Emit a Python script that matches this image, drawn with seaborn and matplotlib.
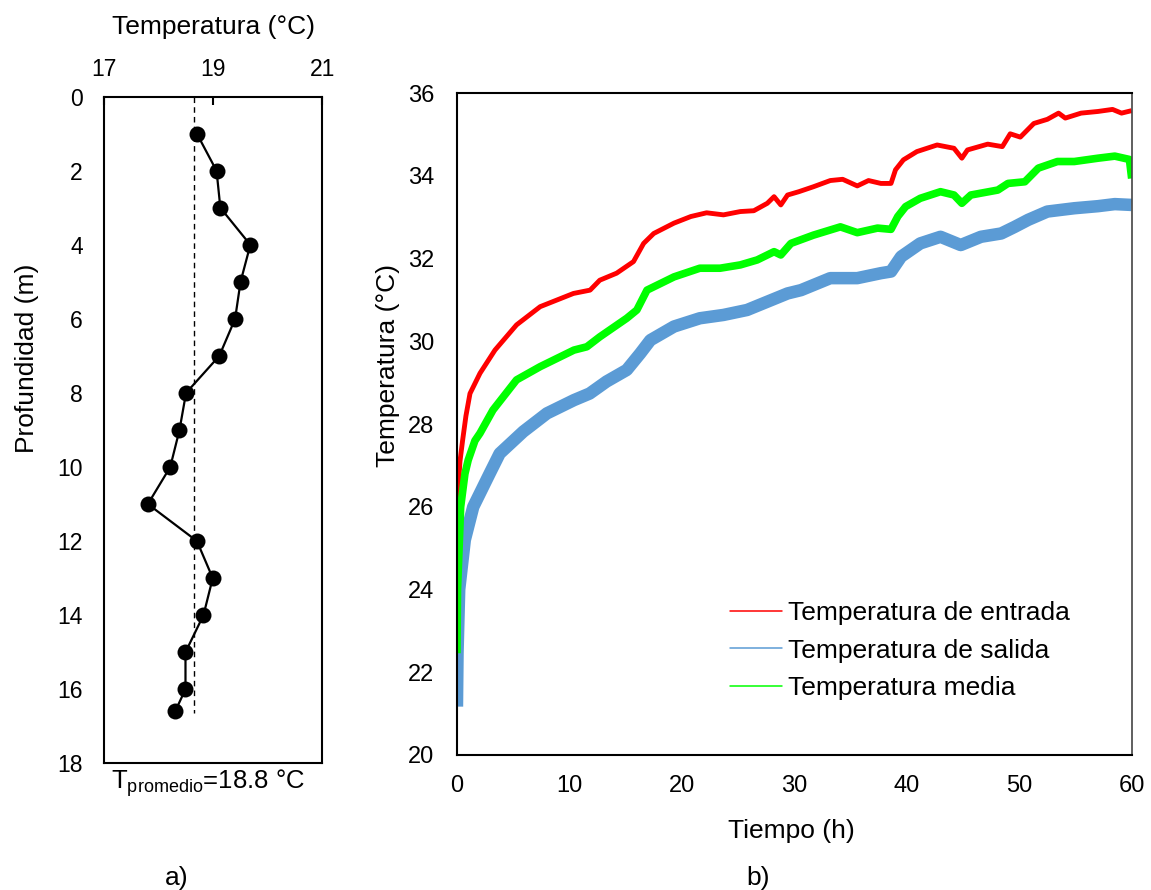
import numpy as np
import pandas as pd
import matplotlib
matplotlib.use("Agg")
import matplotlib.pyplot as plt
from matplotlib.lines import Line2D
import seaborn as sns

# perfil de temperatura del terreno
profundidad = [1, 2, 3, 4, 5, 6, 7, 8, 9, 10, 11, 12, 13, 14, 15, 16, 16.6]
temp_perfil = [18.70, 19.06, 19.13, 19.68, 19.50, 19.40, 19.11, 18.50, 18.38,
               18.21, 17.80, 18.70, 18.99, 18.82, 18.49, 18.49, 18.30]
t_media_linea = 18.65
prof_linea = [0, 16.63]

# temperaturas del ensayo
t_entrada = [0, 0.03, 0.08, 0.27, 0.5, 0.8, 1.16, 2.05, 3.38, 5.3, 7.4, 10.36,
             11.84, 12.7, 14.2, 15.7, 16.6, 17.5, 19.3, 20.8, 22.2, 23.7, 25.2,
             26.4, 27.6, 28.2, 28.8, 29.4, 30.4, 31.7, 33.2, 34.3, 35.6, 36.6,
             37.7, 38.6, 39.0, 39.7, 40.9, 42.7, 44.2, 44.9, 45.4, 47.2, 48.5,
             49.2, 50.1, 51.3, 52.5, 53.5, 54.1, 55.5, 57.0, 58.3, 59.1, 60]
T_entrada = [23.6, 25.5, 26.3, 27.1, 27.6, 28.2, 28.74, 29.23, 29.79, 30.40,
             30.84, 31.16, 31.24, 31.48, 31.65, 31.93, 32.37, 32.61, 32.86,
             33.02, 33.11, 33.06, 33.14, 33.16, 33.34, 33.50, 33.30, 33.54,
             33.62, 33.74, 33.89, 33.92, 33.76, 33.89, 33.82, 33.82, 34.15,
             34.39, 34.59, 34.75, 34.67, 34.43, 34.63, 34.77, 34.71, 35.02,
             34.94, 35.27, 35.37, 35.52, 35.40, 35.52, 35.56, 35.61, 35.52, 35.58]

t_salida = [0, 0.05, 0.2, 0.7, 1.45, 2.9, 3.8, 5.9, 8.0, 10.4, 11.8, 13.3, 15.1,
            16.3, 17.2, 19.3, 21.6, 23.7, 25.8, 27.6, 29.4, 30.6, 33.2, 35.6,
            37.7, 38.6, 39.5, 41.2, 43.0, 44.8, 46.6, 48.4, 49.6, 50.8, 52.5,
            54.9, 57.0, 58.5, 60]
T_salida = [21.17, 22.46, 24.0, 25.2, 26.0, 26.8, 27.29, 27.82, 28.26, 28.58,
            28.74, 29.03, 29.31, 29.71, 30.03, 30.36, 30.56, 30.64, 30.76, 30.96,
            31.16, 31.24, 31.53, 31.53, 31.65, 31.69, 32.05, 32.37, 32.53, 32.33,
            32.53, 32.61, 32.77, 32.94, 33.14, 33.22, 33.27, 33.32, 33.30]

t_med = [0, 0.05, 0.33, 0.71, 1.0, 1.6, 2.05, 3.2, 5.3, 7.4, 10.4, 11.55, 12.7,
         15.1, 16.0, 16.9, 18.1, 19.3, 21.6, 23.4, 25.2, 26.7, 28.2, 28.8, 29.7,
         31.7, 34.1, 35.6, 37.4, 38.6, 39.2, 39.9, 41.2, 43.0, 44.2, 44.9, 45.7,
         48.1, 49.0, 50.5, 51.7, 53.4, 54.9, 57.0, 58.5, 59.8, 60]
T_med = [22.46, 24.0, 26.0, 26.8, 27.13, 27.6, 27.78, 28.34, 29.07, 29.39,
         29.79, 29.87, 30.11, 30.56, 30.76, 31.24, 31.40, 31.56, 31.77, 31.77,
         31.85, 31.97, 32.17, 32.09, 32.37, 32.57, 32.77, 32.63, 32.74, 32.71,
         33.02, 33.26, 33.46, 33.62, 33.54, 33.34, 33.54, 33.66, 33.82, 33.86,
         34.19, 34.35, 34.35, 34.43, 34.48, 34.40, 33.94]

series = ["Temperatura de entrada", "Temperatura de salida", "Temperatura media"]
colores = ["#FF0000", "#5B9BD5", "#00FF00"]
grosor = [3.5, 9, 5.5]

sns.set_theme(style="white")
plt.rcParams['font.family'] = ['Liberation Sans', 'DejaVu Sans']
plt.rcParams['mathtext.fontset'] = 'custom'
plt.rcParams['mathtext.rm'] = 'Liberation Sans'
plt.rcParams['text.color'] = 'black'
plt.rcParams['axes.labelcolor'] = 'black'
plt.rcParams['xtick.color'] = 'black'
plt.rcParams['ytick.color'] = 'black'

fig = plt.figure(figsize=(11.51, 8.90), dpi=100)
ax1 = fig.add_axes([0.0906, 0.1424, 0.1894, 0.7489])
ax2 = fig.add_axes([0.397, 0.1517, 0.5862, 0.7435])

# ---- a) perfil
perfil = pd.DataFrame({"T": temp_perfil, "z": profundidad})
sns.lineplot(data=perfil, x="T", y="z", sort=False, estimator=None, color="black",
             lw=1.6, marker="o", markersize=11.5, markeredgewidth=0, ax=ax1)
ax1.plot([t_media_linea, t_media_linea], prof_linea, color="black", lw=1, ls=(0, (4, 3)))
ax1.set_xlim(17, 21)
ax1.set_ylim(18, 0)
ax1.set_xticks([17, 19, 21])
ax1.set_yticks(range(0, 19, 2))
ax1.xaxis.tick_top()
ax1.xaxis.set_label_position("top")
ax1.set_xlabel("Temperatura (°C)", fontsize=19, labelpad=17)
ax1.set_ylabel("Profundidad (m)", fontsize=19)
ax1.yaxis.set_label_coords(-0.30, 0.608)
ax1.tick_params(axis="both", direction="in", length=6, width=1.5, labelsize=16.5)
ax1.tick_params(axis="x", pad=11.5)
ax1.tick_params(axis="y", pad=15.5)
for sp in ax1.spines.values():
    sp.set_color("black")
    sp.set_linewidth(1.5)
ax1.text(0.03, -0.005, r"T$_{\mathrm{promedio}}$=18.8 °C", transform=ax1.transAxes,
         ha="left", va="top", fontsize=18.5)

# ---- b) ensayo
filas = []
for nombre, tt, vv in [(series[0], t_entrada, T_entrada),
                       (series[1], t_salida, T_salida),
                       (series[2], t_med, T_med)]:
    filas.append(pd.DataFrame({"t": tt, "T": vv, "serie": nombre}))
datos = pd.concat(filas, ignore_index=True)

for nombre, c, w in zip(series, colores, grosor):
    sns.lineplot(data=datos[datos["serie"] == nombre], x="t", y="T", color=c, lw=w,
                 sort=False, estimator=None, ax=ax2, solid_joinstyle="round",
                 solid_capstyle="butt")

ax2.set_xlim(0, 60)
ax2.set_ylim(20, 36)
ax2.set_xticks(range(0, 61, 10))
ax2.set_yticks(range(20, 37, 2))
ax2.set_xlabel("Tiempo (h)", fontsize=19)
ax2.set_ylabel("Temperatura (°C)", fontsize=19)
ax2.xaxis.set_label_coords(0.495, -0.097)
ax2.yaxis.set_label_coords(-0.085, 0.588)
ax2.tick_params(axis="both", direction="in", length=6, width=1.5, labelsize=17)
ax2.tick_params(axis="x", pad=14.5)
ax2.tick_params(axis="y", pad=16.5)
for sp in ax2.spines.values():
    sp.set_color("black")
    sp.set_linewidth(1.5)
ax2.spines["right"].set_color("#444444")
ax2.spines["right"].set_linewidth(1.2)

manejadores = [Line2D([0], [0], color=c, lw=1.1) for c in colores]
ax2.legend(manejadores, series, loc="upper left", bbox_to_anchor=(0.6226, 0.339),
           bbox_transform=fig.transFigure, frameon=False, fontsize=19,
           handlelength=1.97, handletextpad=0.22, labelspacing=0.5, borderpad=0)

fig.text(0.143, 0.0, "a)", fontsize=19, ha="left", va="bottom")
fig.text(0.648, 0.0, "b)", fontsize=19, ha="left", va="bottom")

fig.savefig("out.png", dpi=100)
plt.close(fig)
